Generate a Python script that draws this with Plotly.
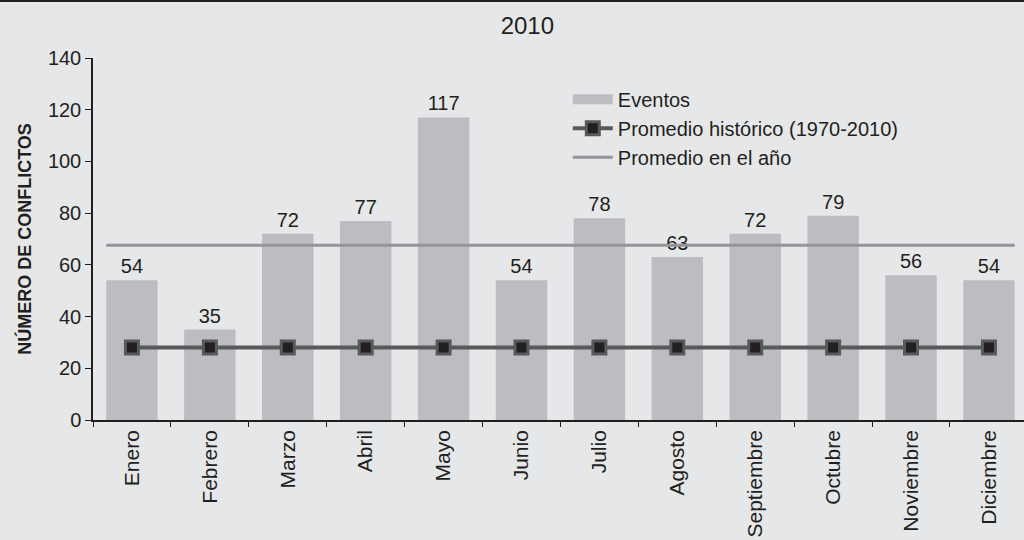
import plotly.graph_objects as go

meses = ['Enero', 'Febrero', 'Marzo', 'Abril', 'Mayo', 'Junio', 'Julio',
         'Agosto', 'Septiembre', 'Octubre', 'Noviembre', 'Diciembre']
eventos = [54, 35, 72, 77, 117, 54, 78, 63, 72, 79, 56, 54]
promedio_historico = [28] * len(meses)
promedio_anio = sum(eventos) / len(eventos)

bar_width = 0.66
x_range = [-0.5, len(meses) - 0.55]
bar_color = '#bcbdc0'

fig = go.Figure()

fig.add_trace(go.Bar(
    x=meses, y=eventos, name='Eventos', showlegend=False,
    marker=dict(color=bar_color, line=dict(width=0)),
    width=bar_width,
    text=eventos, textposition='outside', cliponaxis=False,
    textfont=dict(size=20, color='#231f20'),
))

# legend entry for the bars (wide swatch like the original)
fig.add_trace(go.Scatter(
    x=[None], y=[None], name='Eventos', mode='lines',
    line=dict(color=bar_color, width=12),
))

fig.add_trace(go.Scatter(
    x=meses, y=promedio_historico, name='Promedio histórico (1970-2010)',
    mode='lines+markers',
    line=dict(color='#58595b', width=4),
    marker=dict(symbol='square', size=13, color='#231f20',
                line=dict(color='#58595b', width=3)),
))

fig.add_trace(go.Scatter(
    x=[-bar_width / 2, len(meses) - 1 + bar_width / 2],
    y=[promedio_anio, promedio_anio],
    name='Promedio en el año', mode='lines',
    line=dict(color='#939598', width=3),
    xaxis='x2',
))

fig.update_layout(
    width=1024, height=540,
    margin=dict(l=93, r=0, t=58, b=120),
    paper_bgcolor='#e6e7e8',
    plot_bgcolor='#e6e7e8',
    font=dict(family='Liberation Sans, Arial, sans-serif', color='#231f20'),
    title=dict(text='2010', x=0.515, xanchor='center', y=0.953, yanchor='middle',
               font=dict(size=24, color='#231f20')),
    showlegend=True,
    legend=dict(x=0.51, y=0.94, xanchor='left', yanchor='top',
                bgcolor='rgba(0,0,0,0)', font=dict(size=20, color='#231f20'),
                itemwidth=40, tracegroupgap=0),
    xaxis=dict(
        type='category', range=x_range, autorange=False,
        showgrid=False, zeroline=False,
        showline=True, linecolor='#231f20', linewidth=1.5,
        ticks='outside', tickson='boundaries', ticklen=5, tickcolor='#231f20',
        tickangle=-90, tickfont=dict(size=21, color='#231f20'),
    ),
    xaxis2=dict(
        type='linear', overlaying='x', range=x_range, autorange=False,
        visible=False, showgrid=False,
    ),
    yaxis=dict(
        range=[0, 140], dtick=20,
        showgrid=False, zeroline=False,
        showline=True, linecolor='#231f20', linewidth=1.5,
        ticks='outside', ticklen=6, tickcolor='#231f20',
        tickfont=dict(size=20, color='#231f20'),
        title=dict(text='<b>NÚMERO DE CONFLICTOS</b>', standoff=12,
                   font=dict(size=18, color='#231f20')),
    ),
    shapes=[dict(type='line', xref='paper', yref='paper',
                 x0=-0.2, x1=1.1, y0=1 + 57 / 362, y1=1 + 57 / 362,
                 line=dict(color='#231f20', width=2))],
)

fig.write_html('out.html', config={'displayModeBar': False},
               post_script="document.body.style.margin='0';")
